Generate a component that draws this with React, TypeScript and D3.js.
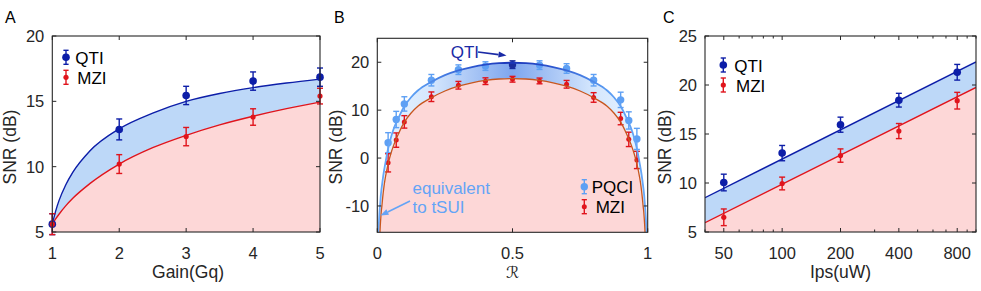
import React from 'react';
import * as d3 from 'd3';

// ---------- Panel A data ----------
const gainX = [1, 2, 3, 4, 5];
const gainTicks = [1, 2, 3, 4, 5];
const snrTicksA = [5, 10, 15, 20];
const qtiA = [5.6, 12.85, 15.45, 16.55, 16.85];
const qtiAErr = [0.8, 0.8, 0.7, 0.7, 0.7];
const mziA = [5.6, 10.2, 12.3, 13.8, 15.4];
const mziAErr = [0.8, 0.72, 0.7, 0.63, 0.6];
const fitGainX = [1, 1.05, 1.1, 1.2, 1.31, 1.56, 2, 2.5, 3, 3.5, 4, 4.5, 5];
const qtiAFit = [5.6, 6.6, 7.4, 8.6, 9.6, 11.2, 12.9, 14.1, 15.0, 15.6, 16.05, 16.4, 16.7];
const mziAFit = [5.6, 6.0, 6.36, 7.0, 7.6, 8.7, 10.2, 11.45, 12.4, 13.2, 13.86, 14.44, 14.94];

// ---------- Panel B data ----------
const reflR = [0.04, 0.07, 0.1, 0.2, 0.3, 0.4, 0.5, 0.6, 0.7, 0.8, 0.9, 0.93, 0.96];
const pqciB = [3.2, 8.05, 11.3, 16.25, 18.45, 19.2, 19.5, 19.4, 18.7, 16.25, 12.15, 7.85, 4.0];
const pqciBErr = [2.1, 1.7, 1.5, 1.2, 1.0, 0.9, 0.8, 0.9, 1.0, 1.2, 1.6, 1.8, 2.2];
const mziB = [-1.0, 3.75, 7.55, 12.8, 15.2, 16.05, 16.45, 16.1, 15.4, 12.65, 8.25, 3.9, -0.4];
const mziBErr = [1.9, 1.5, 1.3, 1.0, 0.8, 0.7, 0.6, 0.6, 0.8, 1.0, 1.3, 1.5, 1.8];
const rTicks = [0, 0.5, 1];
const snrTicksB = [-10, 0, 10, 20];
const fitR = [0.0045, 0.006, 0.008, 0.0095, 0.011, 0.013, 0.015, 0.017, 0.02, 0.025, 0.03, 0.04, 0.05, 0.06, 0.07, 0.08, 0.1, 0.125, 0.15, 0.2, 0.25, 0.3, 0.35, 0.4, 0.45, 0.5,
  0.55, 0.6, 0.65, 0.7, 0.75, 0.8, 0.85, 0.875, 0.9, 0.92, 0.93, 0.94, 0.95, 0.96, 0.97, 0.975, 0.98, 0.983, 0.985, 0.987, 0.989, 0.9905, 0.992, 0.994, 0.9955];
const qtiBFit = [-15.8, -13.5, -11.5, -10.3, -9.3, -7.8, -6.7, -5.8, -4.5, -2.6, -1.0, 2.0, 4.2, 6.0, 7.4, 8.6, 10.8, 12.7, 14.1, 15.9, 17.3, 18.3, 19.0, 19.5, 19.8, 19.9,
  19.8, 19.5, 19.0, 18.3, 17.3, 15.9, 14.1, 12.7, 10.8, 8.6, 7.4, 6.0, 4.2, 2.0, -1.0, -2.6, -4.5, -5.8, -6.7, -7.8, -9.3, -10.3, -11.5, -13.5, -15.8];
const mziBFit = [-30, -24, -19, -16.0, -14.2, -12.4, -11.0, -10.0, -8.2, -5.8, -4.0, -1.2, 0.9, 2.6, 4.0, 5.3, 7.5, 9.4, 10.8, 12.6, 14.0, 15.0, 15.7, 16.2, 16.5, 16.6,
  16.5, 16.2, 15.7, 15.0, 14.0, 12.6, 10.8, 9.4, 7.5, 5.3, 4.0, 2.6, 0.9, -1.2, -4.0, -5.8, -8.2, -10.0, -11.0, -12.4, -14.2, -16.0, -19, -24, -30];

// ---------- Panel C data ----------
const powerX = [50, 100, 200, 400, 800];
const powerTicks = [50, 100, 200, 400, 800];
const powerMinor = [40, 60, 70, 80, 90, 300, 500, 600, 700, 900, 1000];
const snrTicksC = [5, 10, 15, 20, 25];
const qtiC = [10.05, 13.05, 15.95, 18.45, 21.3];
const qtiCErr = [0.85, 0.78, 0.77, 0.7, 0.8];
const mziC = [6.5, 9.95, 12.8, 15.3, 18.4];
const mziCErr = [0.85, 0.65, 0.68, 0.77, 0.85];
const fitPowerX = [40, 1000];
const qtiCFit = [8.5, 22.35];
const mziCFit = [5.95, 19.75];

const FONT = "'Liberation Sans', Arial, Helvetica, sans-serif";
const AX = '#262626';
const QTI_C = '#0d1ea8';
const MZI_C = '#e0141c';
const BLUE_FILL = '#bdd8f8';
const PINK_FILL = '#fdd7d7';
const PQCI_C = '#5ea0f4';
const MZI_LINE_B = '#c8561e';

type Frame = { x0: number; x1: number; y0: number; y1: number };

function Axes({ f, xs, ys, xt, yt, xMinor, xFmt }: any) {
  const T = 4;
  return (
    <g>
      <rect x={f.x0} y={f.y0} width={f.x1 - f.x0} height={f.y1 - f.y0} fill="none" stroke={AX} strokeWidth={1.1} />
      {xt.map((v: number) => (
        <g key={'x' + v}>
          <line x1={xs(v)} x2={xs(v)} y1={f.y1} y2={f.y1 - T} stroke={AX} />
          <line x1={xs(v)} x2={xs(v)} y1={f.y0} y2={f.y0 + T} stroke={AX} />
          <text x={xs(v)} y={f.y1 + 26.5} textAnchor="middle" fontSize={16.5} fill={AX} fontFamily={FONT}>{xFmt ? xFmt(v) : String(v)}</text>
        </g>
      ))}
      {(xMinor || []).map((v: number) => (
        <g key={'m' + v}>
          <line x1={xs(v)} x2={xs(v)} y1={f.y1} y2={f.y1 - 2.5} stroke={AX} />
          <line x1={xs(v)} x2={xs(v)} y1={f.y0} y2={f.y0 + 2.5} stroke={AX} />
        </g>
      ))}
      {yt.map((v: number) => (
        <g key={'y' + v}>
          <line x1={f.x0} x2={f.x0 + T} y1={ys(v)} y2={ys(v)} stroke={AX} />
          <line x1={f.x1} x2={f.x1 - T} y1={ys(v)} y2={ys(v)} stroke={AX} />
          <text x={f.x0 - 8} y={ys(v)} dy="0.36em" textAnchor="end" fontSize={16.5} fill={AX} fontFamily={FONT}>{String(v)}</text>
        </g>
      ))}
    </g>
  );
}

function ErrPt({ x, y, lo, hi, color, r, cap = 3, w = 1.4 }: any) {
  return (
    <g>
      <line x1={x} x2={x} y1={lo} y2={hi} stroke={color} strokeWidth={w} />
      <line x1={x - cap} x2={x + cap} y1={lo} y2={lo} stroke={color} strokeWidth={w} />
      <line x1={x - cap} x2={x + cap} y1={hi} y2={hi} stroke={color} strokeWidth={w} />
      <circle cx={x} cy={y} r={r} fill={color} />
    </g>
  );
}

function Series({ xs, ys, xv, yv, ev, color, r, skipColor }: any) {
  return (
    <g>
      {xv.map((x: number, i: number) => (
        <ErrPt key={i} x={xs(x)} y={ys(yv[i])} lo={ys(yv[i] - ev[i])} hi={ys(yv[i] + ev[i])}
          color={skipColor && skipColor[i] ? skipColor[i] : color} r={r} />
      ))}
    </g>
  );
}

function LegendItem({ mx, my, tx, ty, color, r, label }: any) {
  return (
    <g>
      <ErrPt x={mx} y={my} lo={my + 7} hi={my - 7} color={color} r={r} cap={2.6} />
      <text x={tx} y={ty} fontSize={17} fontFamily={FONT} fill="#000">{label}</text>
    </g>
  );
}

function Arrow({ x1, y1, x2, y2, color, w = 1.5, head = 7 }: any) {
  const a = Math.atan2(y2 - y1, x2 - x1);
  const hx = x2 - head * Math.cos(a), hy = y2 - head * Math.sin(a);
  const px = Math.sin(a) * head * 0.38, py = -Math.cos(a) * head * 0.38;
  return (
    <g>
      <line x1={x1} y1={y1} x2={hx} y2={hy} stroke={color} strokeWidth={w} />
      <polygon points={`${x2},${y2} ${hx + px},${hy + py} ${hx - px},${hy - py}`} fill={color} />
    </g>
  );
}

export default function App() {
  // ----- Panel A -----
  const fA: Frame = { x0: 52.3, x1: 320, y0: 36, y1: 232 };
  const xA = d3.scaleLinear().domain([1, 5]).range([fA.x0, fA.x1]);
  const yA = d3.scaleLinear().domain([5, 20]).range([fA.y1, fA.y0]);
  const idxA = d3.range(fitGainX.length);
  const lineQA = d3.line<number>().x(i => xA(fitGainX[i])).y(i => yA(qtiAFit[i])).curve(d3.curveMonotoneX)(idxA)!;
  const lineMA = d3.line<number>().x(i => xA(fitGainX[i])).y(i => yA(mziAFit[i])).curve(d3.curveMonotoneX)(idxA)!;
  const pinkA = d3.area<number>().x(i => xA(fitGainX[i])).y0(fA.y1).y1(i => yA(mziAFit[i])).curve(d3.curveMonotoneX)(idxA)!;
  const blueA = d3.area<number>().x(i => xA(fitGainX[i])).y0(i => yA(mziAFit[i])).y1(i => yA(qtiAFit[i])).curve(d3.curveMonotoneX)(idxA)!;

  // ----- Panel B -----
  const fB: Frame = { x0: 377.3, x1: 647.7, y0: 38.3, y1: 232.3 };
  const xB = d3.scaleLinear().domain([0, 1]).range([fB.x0, fB.x1]);
  const yB = d3.scaleLinear().domain([-15.5, 25]).range([fB.y1, fB.y0]);
  const idxB = d3.range(fitR.length);
  const lineQB = d3.line<number>().x(i => xB(fitR[i])).y(i => yB(qtiBFit[i])).curve(d3.curveMonotoneX)(idxB)!;
  const lineMB = d3.line<number>().x(i => xB(fitR[i])).y(i => yB(mziBFit[i])).curve(d3.curveMonotoneX)(idxB)!;
  const pinkB = d3.area<number>().x(i => xB(fitR[i])).y0(fB.y1 + 50).y1(i => yB(mziBFit[i])).curve(d3.curveMonotoneX)(idxB)!;
  const blueB = d3.area<number>().x(i => xB(fitR[i])).y0(i => yB(mziBFit[i])).y1(i => yB(qtiBFit[i])).curve(d3.curveMonotoneX)(idxB)!;
  const pqciColors = reflR.map(r => (r === 0.5 ? '#1a2c9c' : null));

  // ----- Panel C -----
  const fC: Frame = { x0: 705, x1: 976, y0: 36, y1: 232 };
  const xC = d3.scaleLog().domain([40, 1000]).range([fC.x0, fC.x1]);
  const yC = d3.scaleLinear().domain([5, 25]).range([fC.y1, fC.y0]);
  const idxC = d3.range(fitPowerX.length);
  const lineQC = d3.line<number>().x(i => xC(fitPowerX[i])).y(i => yC(qtiCFit[i]))(idxC)!;
  const lineMC = d3.line<number>().x(i => xC(fitPowerX[i])).y(i => yC(mziCFit[i]))(idxC)!;
  const pinkC = d3.area<number>().x(i => xC(fitPowerX[i])).y0(fC.y1).y1(i => yC(mziCFit[i]))(idxC)!;
  const blueC = d3.area<number>().x(i => xC(fitPowerX[i])).y0(i => yC(mziCFit[i])).y1(i => yC(qtiCFit[i]))(idxC)!;

  const clip = (id: string, f: Frame) => (
    <clipPath id={id}><rect x={f.x0} y={f.y0} width={f.x1 - f.x0} height={f.y1 - f.y0} /></clipPath>
  );

  return (
    <svg width={981} height={291} style={{ position: 'absolute', left: 0, top: 0, background: '#fff' }} fontFamily={FONT}>
      <defs>
        {clip('clipA', fA)}
        {clip('clipB', fB)}
        {clip('clipC', fC)}
        <linearGradient id="gFillB" gradientUnits="userSpaceOnUse" x1={fB.x0} x2={fB.x1} y1={0} y2={0}>
          <stop offset="0" stopColor="#e9f4ff" />
          <stop offset="0.2" stopColor="#d5e7fd" />
          <stop offset="0.5" stopColor="#7ea6ee" />
          <stop offset="0.8" stopColor="#d5e7fd" />
          <stop offset="1" stopColor="#e9f4ff" />
        </linearGradient>
        <linearGradient id="gLineB" gradientUnits="userSpaceOnUse" x1={fB.x0} x2={fB.x1} y1={0} y2={0}>
          <stop offset="0" stopColor="#68a8f8" />
          <stop offset="0.15" stopColor="#5a9cf2" />
          <stop offset="0.35" stopColor="#2d57d0" />
          <stop offset="0.5" stopColor="#1a35b8" />
          <stop offset="0.65" stopColor="#2d57d0" />
          <stop offset="0.85" stopColor="#5a9cf2" />
          <stop offset="1" stopColor="#68a8f8" />
        </linearGradient>
      </defs>
      <rect x={0} y={0} width={981} height={291} fill="#fff" />

      {/* Panel A */}
      <g clipPath="url(#clipA)">
        <path d={pinkA} fill={PINK_FILL} />
        <path d={blueA} fill={BLUE_FILL} />
        <path d={lineQA} fill="none" stroke={QTI_C} strokeWidth={1.4} />
        <path d={lineMA} fill="none" stroke={MZI_C} strokeWidth={1.4} />
      </g>
      <Series xs={xA} ys={yA} xv={gainX} yv={qtiA} ev={qtiAErr} color={QTI_C} r={3.8} />
      <Series xs={xA} ys={yA} xv={gainX} yv={mziA} ev={mziAErr} color={MZI_C} r={2.6} />
      <Axes f={fA} xs={xA} ys={yA} xt={gainTicks} yt={snrTicksA} />
      <LegendItem mx={66} my={57.3} tx={75.3} ty={64} color={QTI_C} r={3.8} label="QTI" />
      <LegendItem mx={66} my={77.3} tx={77.3} ty={83.7} color={MZI_C} r={2.6} label="MZI" />
      <text x={188} y={278.3} textAnchor="middle" fontSize={17.5} fill={AX}>Gain(Gq)</text>
      <text transform={`translate(15.5,147) rotate(-90)`} textAnchor="middle" fontSize={17.5} fill={AX}>SNR (dB)</text>
      <text x={5} y={23.3} fontSize={16} fill="#000">A</text>

      {/* Panel B */}
      <g clipPath="url(#clipB)">
        <path d={pinkB} fill={PINK_FILL} />
        <path d={blueB} fill="url(#gFillB)" />
      </g>
      <Series xs={xB} ys={yB} xv={reflR} yv={pqciB} ev={pqciBErr} color={PQCI_C} r={3.7} skipColor={pqciColors} />
      <Series xs={xB} ys={yB} xv={reflR} yv={mziB} ev={mziBErr} color={MZI_C} r={2.5} />
      <g clipPath="url(#clipB)">
        <path d={lineQB} fill="none" stroke="url(#gLineB)" strokeWidth={1.8} />
        <path d={lineMB} fill="none" stroke={MZI_LINE_B} strokeWidth={1.3} />
      </g>
      <Axes f={fB} xs={xB} ys={yB} xt={rTicks} yt={snrTicksB} />
      <text x={450.7} y={57.5} fontSize={17} fill="#1a2aa6">QTI</text>
      <Arrow x1={478} y1={52} x2={506.5} y2={55.6} color="#1a2aa6" w={1.6} head={8} />
      <text x={412.5} y={194.3} fontSize={17} fill="#64a4f6">equivalent</text>
      <text x={412.5} y={213.3} fontSize={17} fill="#64a4f6">to tSUI</text>
      <Arrow x1={410} y1={201} x2={380.5} y2={215.5} color="#64a4f6" w={1.6} head={8} />
      <LegendItem mx={584.3} my={186.7} tx={591.7} ty={192.7} color={PQCI_C} r={3.7} label="PQCI" />
      <LegendItem mx={584.3} my={206.7} tx={595.7} ty={212.7} color={MZI_C} r={2.5} label="MZI" />
      <text x={512.5} y={278} textAnchor="middle" fontSize={16.5} fill={AX} fontFamily="'DejaVu Serif', 'DejaVu Sans', serif" fontStyle="italic">ℛ</text>
      <text transform={`translate(342.3,147) rotate(-90)`} textAnchor="middle" fontSize={17.5} fill={AX}>SNR (dB)</text>
      <text x={334} y={23.3} fontSize={16} fill="#000">B</text>

      {/* Panel C */}
      <g clipPath="url(#clipC)">
        <path d={pinkC} fill={PINK_FILL} />
        <path d={blueC} fill={BLUE_FILL} />
        <path d={lineQC} fill="none" stroke={QTI_C} strokeWidth={1.4} />
        <path d={lineMC} fill="none" stroke={MZI_C} strokeWidth={1.4} />
      </g>
      <Series xs={xC} ys={yC} xv={powerX} yv={qtiC} ev={qtiCErr} color={QTI_C} r={3.8} />
      <Series xs={xC} ys={yC} xv={powerX} yv={mziC} ev={mziCErr} color={MZI_C} r={2.6} />
      <Axes f={fC} xs={xC} ys={yC} xt={powerTicks} yt={snrTicksC} xMinor={powerMinor} />
      <LegendItem mx={723.3} my={65} tx={734.3} ty={71.7} color={QTI_C} r={3.8} label="QTI" />
      <LegendItem mx={723.3} my={85} tx={736} ty={91.7} color={MZI_C} r={2.6} label="MZI" />
      <text x={840.5} y={278.3} textAnchor="middle" fontSize={17.5} fill={AX}>Ips(uW)</text>
      <text transform={`translate(670.5,147) rotate(-90)`} textAnchor="middle" fontSize={17.5} fill={AX}>SNR (dB)</text>
      <text x={663} y={23.3} fontSize={16} fill="#000">C</text>
    </svg>
  );
}
